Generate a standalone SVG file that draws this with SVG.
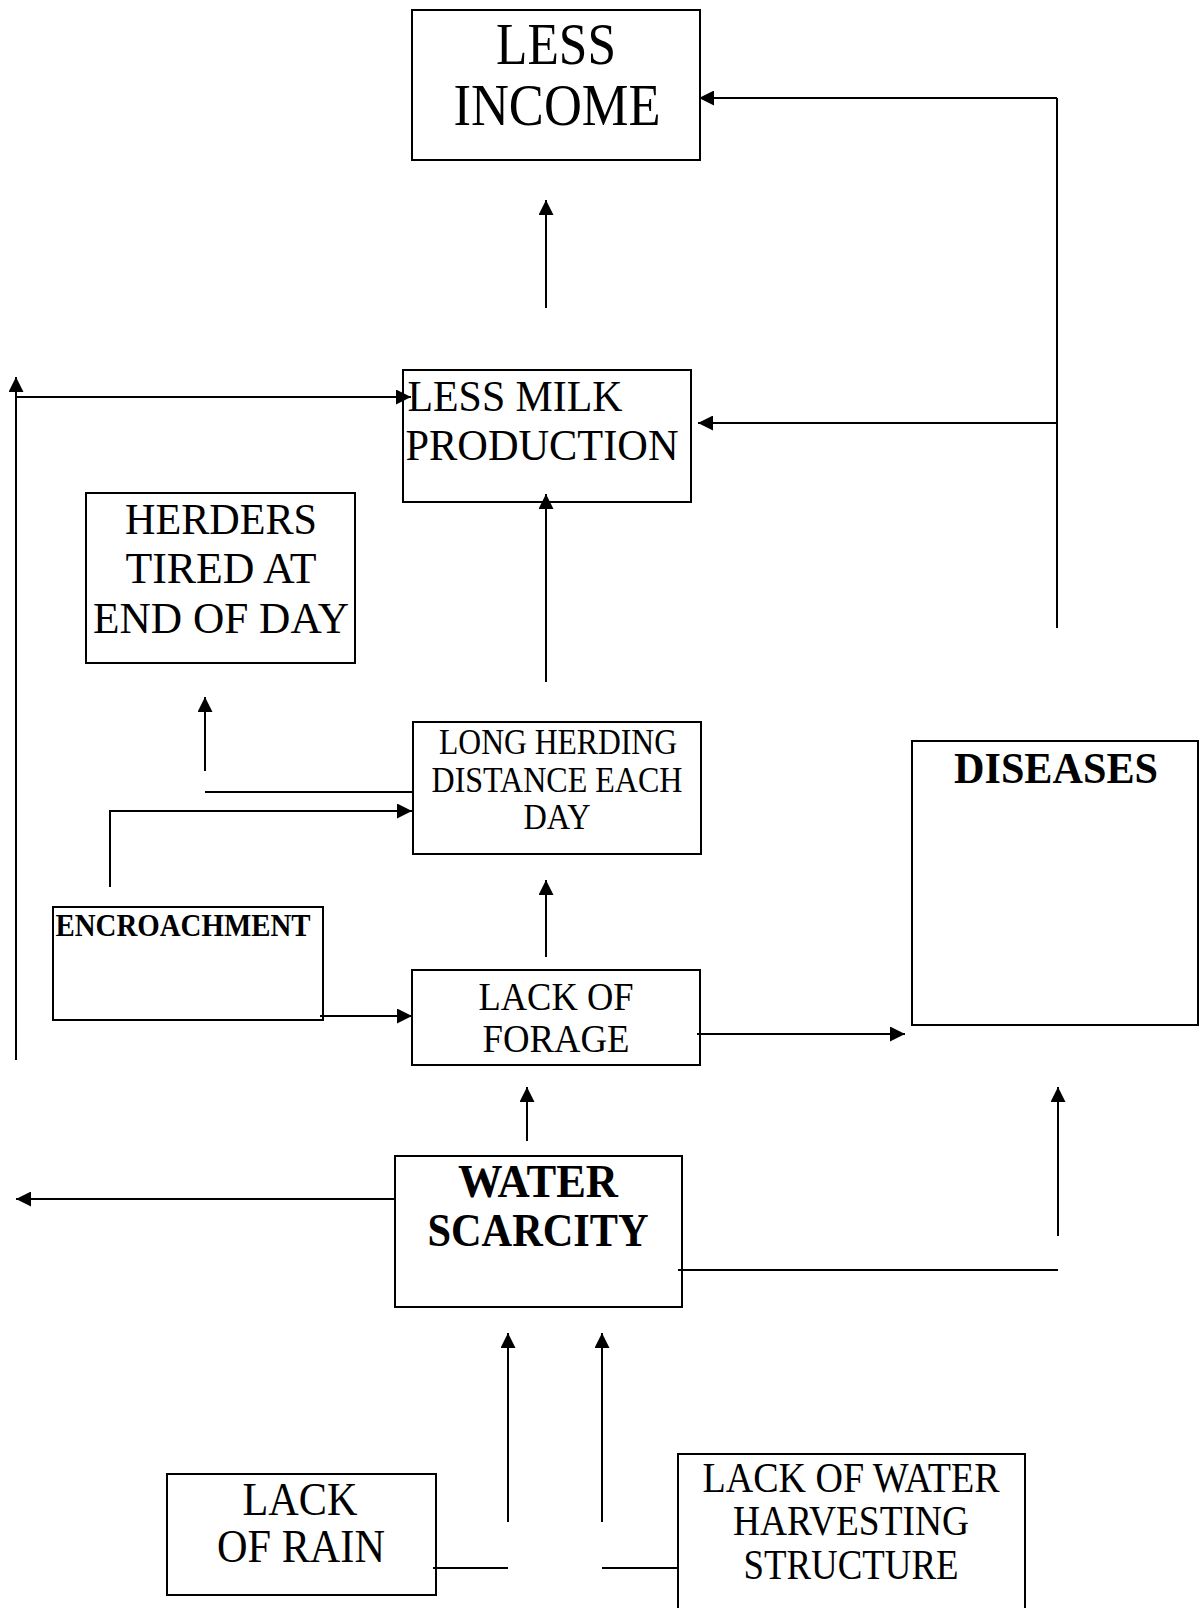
<svg xmlns="http://www.w3.org/2000/svg" width="1200" height="1608" viewBox="0 0 1200 1608">
<style>
.box{fill:#fff;stroke:#000;stroke-width:2}
.t{font-family:"Liberation Serif","Times New Roman",serif;fill:#000;text-anchor:middle}
.b{font-weight:bold}
.c line,.c polyline{stroke:#000;stroke-width:2;fill:none}
.a{marker-end:url(#ah)}
</style>
<defs>
<marker id="ah" markerUnits="userSpaceOnUse" markerWidth="15" markerHeight="15" refX="15" refY="7.5" orient="auto">
<path d="M0,0 L15,7.5 L0,15 z" fill="#000"/>
</marker>
</defs>
<g id="less-income">
<rect class="box" x="412" y="10" width="288" height="150"/>
<text class="t" x="556" y="64" font-size="60" textLength="120" lengthAdjust="spacingAndGlyphs">LESS</text>
<text class="t" x="557" y="125" font-size="60" textLength="207" lengthAdjust="spacingAndGlyphs">INCOME</text>
</g>
<g id="less-milk">
<rect class="box" x="403" y="370" width="288" height="132"/>
<text class="t" x="515" y="411" font-size="45" textLength="215" lengthAdjust="spacingAndGlyphs">LESS MILK</text>
<text class="t" x="542" y="460" font-size="45" textLength="273" lengthAdjust="spacingAndGlyphs">PRODUCTION</text>
</g>
<g id="herders">
<rect class="box" x="86" y="493" width="269" height="170"/>
<text class="t" x="221" y="534" font-size="45" textLength="192" lengthAdjust="spacingAndGlyphs">HERDERS</text>
<text class="t" x="221" y="583" font-size="45" textLength="191" lengthAdjust="spacingAndGlyphs">TIRED AT</text>
<text class="t" x="221" y="633" font-size="45" textLength="256" lengthAdjust="spacingAndGlyphs">END OF DAY</text>
</g>
<g id="long-herding">
<rect class="box" x="413" y="722" width="288" height="132"/>
<text class="t" x="558" y="754" font-size="35" textLength="238" lengthAdjust="spacingAndGlyphs">LONG HERDING</text>
<text class="t" x="557" y="792" font-size="35" textLength="251" lengthAdjust="spacingAndGlyphs">DISTANCE EACH</text>
<text class="t" x="557" y="829" font-size="35" textLength="67" lengthAdjust="spacingAndGlyphs">DAY</text>
</g>
<g id="encroachment">
<rect class="box" x="53" y="907" width="270" height="113"/>
<text class="t b" x="183" y="936" font-size="31" textLength="255" lengthAdjust="spacingAndGlyphs">ENCROACHMENT</text>
</g>
<g id="lack-forage">
<rect class="box" x="412" y="970" width="288" height="95"/>
<text class="t" x="556" y="1010" font-size="40" textLength="155" lengthAdjust="spacingAndGlyphs">LACK OF</text>
<text class="t" x="556" y="1052" font-size="40" textLength="147" lengthAdjust="spacingAndGlyphs">FORAGE</text>
</g>
<g id="diseases">
<rect class="box" x="912" y="741" width="286" height="284"/>
<text class="t b" x="1056" y="783" font-size="45" textLength="204" lengthAdjust="spacingAndGlyphs">DISEASES</text>
</g>
<g id="water-scarcity">
<rect class="box" x="395" y="1156" width="287" height="151"/>
<text class="t b" x="538" y="1197" font-size="46" textLength="160" lengthAdjust="spacingAndGlyphs">WATER</text>
<text class="t b" x="538" y="1246" font-size="46" textLength="221" lengthAdjust="spacingAndGlyphs">SCARCITY</text>
</g>
<g id="lack-rain">
<rect class="box" x="167" y="1474" width="269" height="121"/>
<text class="t" x="300" y="1515" font-size="46" textLength="115" lengthAdjust="spacingAndGlyphs">LACK</text>
<text class="t" x="301" y="1562" font-size="46" textLength="168" lengthAdjust="spacingAndGlyphs">OF RAIN</text>
</g>
<g id="lack-harvesting">
<rect class="box" x="678" y="1454" width="347" height="170"/>
<text class="t" x="851" y="1492" font-size="42" textLength="297" lengthAdjust="spacingAndGlyphs">LACK OF WATER</text>
<text class="t" x="851" y="1535" font-size="42" textLength="236" lengthAdjust="spacingAndGlyphs">HARVESTING</text>
<text class="t" x="851" y="1579" font-size="42" textLength="215" lengthAdjust="spacingAndGlyphs">STRUCTURE</text>
</g>
<g id="connectors" class="c">
<line class="a" x1="546" y1="308" x2="546" y2="200"/>
<polyline points="1057,628 1057,98"/>
<line class="a" x1="1057" y1="98" x2="699" y2="98"/>
<line class="a" x1="1057" y1="423" x2="698" y2="423"/>
<line class="a" x1="16" y1="1060" x2="16" y2="377"/>
<line class="a" x1="16" y1="397" x2="411" y2="397"/>
<line class="a" x1="546" y1="682" x2="546" y2="494"/>
<line class="a" x1="205" y1="771" x2="205" y2="697"/>
<line x1="205" y1="792" x2="413" y2="792"/>
<polyline class="a" points="110,887 110,811 412,811"/>
<line class="a" x1="546" y1="957" x2="546" y2="880"/>
<line class="a" x1="320" y1="1016" x2="412" y2="1016"/>
<line class="a" x1="697" y1="1034" x2="905" y2="1034"/>
<line class="a" x1="527" y1="1141" x2="527" y2="1087"/>
<line class="a" x1="395" y1="1199" x2="16" y2="1199"/>
<line class="a" x1="1058" y1="1236" x2="1058" y2="1087"/>
<line x1="678" y1="1270" x2="1058" y2="1270"/>
<line class="a" x1="508" y1="1522" x2="508" y2="1333"/>
<line class="a" x1="602" y1="1522" x2="602" y2="1333"/>
<line x1="433" y1="1568" x2="508" y2="1568"/>
<line x1="602" y1="1568" x2="679" y2="1568"/>
</g>
</svg>
